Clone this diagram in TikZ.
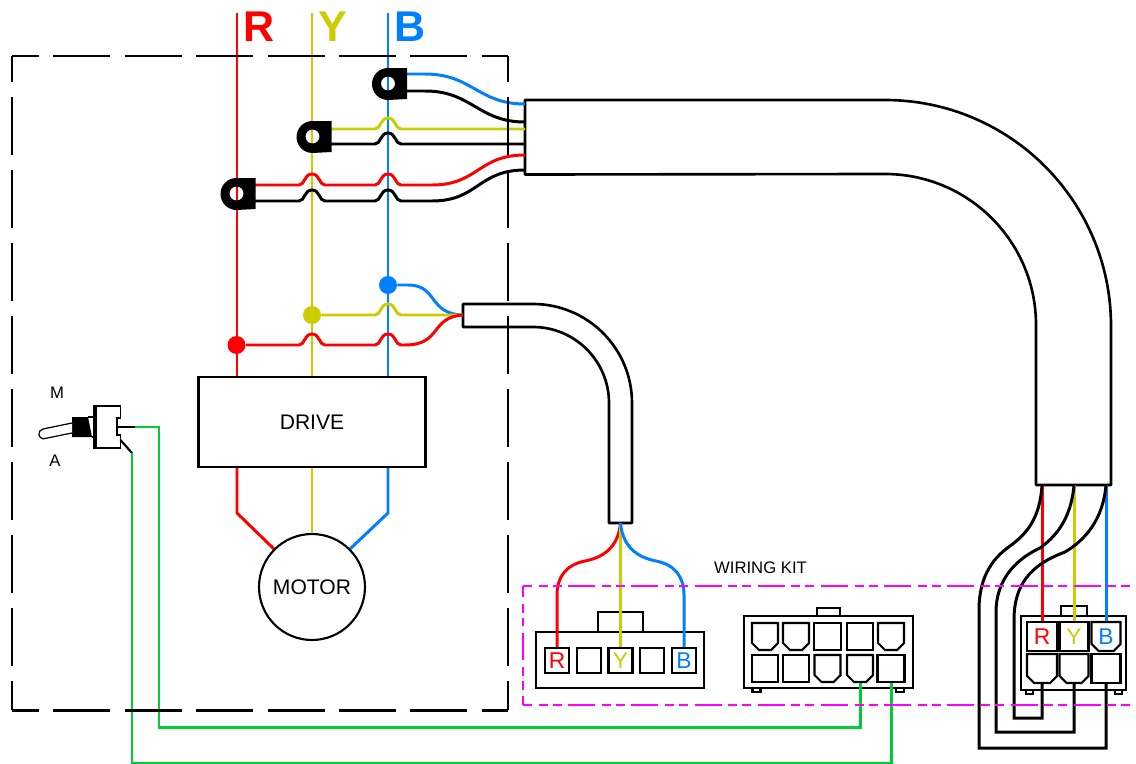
\documentclass[tikz,border=0pt]{standalone}
\usepackage{fontspec}
\setmainfont{Liberation Sans}
\usetikzlibrary{shapes.misc}
\definecolor{redw}{RGB}{255,0,0}
\definecolor{yelw}{RGB}{204,204,0}
\definecolor{bluw}{RGB}{0,128,255}
\definecolor{grnw}{RGB}{0,204,51}
\definecolor{kitc}{RGB}{255,0,255}
\tikzset{
  redwire/.style={draw=redw, line width=1.7pt},
  yelwire/.style={draw=yelw, line width=1.7pt},
  bluwire/.style={draw=bluw, line width=1.7pt},
  grnwire/.style={draw=grnw, line width=1.7pt},
  blkwire/.style={draw=black, line width=1.7pt},
  cable/.style={draw=black, line width=1.5pt, line join=round},
  box/.style={draw, line width=1.2pt, inner sep=0pt},
  phase/.style={font=\fontsize{24.5}{24.5}\selectfont\bfseries, inner sep=0pt},
  label/.style={font=\fontsize{9.5}{9.5}\selectfont, inner sep=0pt},
  pin/.style={draw, line width=1.2pt, inner sep=0pt, minimum width=#1, minimum height=0.5cm,
    font=\fontsize{13}{13}\selectfont},
  pin/.default=0.48cm,
  cut/.style={pin=#1, chamfered rectangle, chamfered rectangle xsep=0.07cm, chamfered rectangle ysep=0.07cm,
    chamfered rectangle corners={south west,south east}},
  cut/.default=0.52cm,
  dot/.style={circle, inner sep=0pt, minimum size=0.36cm},
  wallh/.style={line width=1.7pt, dash pattern=on 1.14cm off 0.288cm, dash phase=0.6cm},
  wallv/.style={line width=1.7pt, dash pattern=on 1.17cm off 0.29cm, dash phase=0.64cm},
  kith/.style={draw=kitc, line width=1.4pt, dash pattern=on 0.54cm off 0.13cm on 0.18cm off 0.1cm on 0.18cm off 0.134cm, dash phase=#1},
  lug/.pic={\fill[even odd rule] (19,-15.5) -- (0,-15.5) arc[start angle=-90, end angle=-270, radius=16] -- (19,15.5) -- cycle
    (0,0) circle[radius=7];},
}
\newcommand{\hop}[2]{-- (#1-13,#2) .. controls (#1-7,#2) and (#1-8,#2-11) .. (#1,#2-11) .. controls (#1+8,#2-11) and (#1+7,#2) .. (#1+13,#2)}
\begin{document}
\begin{tikzpicture}[x=0.02cm, y=-0.02cm]
    \useasboundingbox (0,0) rectangle (1136,764);

    \node[phase, text=redw] (labR) at (259,27) {R};
    \node[phase, text=yelw] (labY) at (333,27) {Y};
    \node[phase, text=bluw] (labB) at (410,27) {B};
    \coordinate (topR) at (237,13);
    \coordinate (topY) at (312,13);
    \coordinate (topB) at (388,13);

    \node[box, minimum width=4.54cm, minimum height=1.8cm, font=\fontsize{12}{12}\selectfont] (drive) at (312,422) {DRIVE};
    \node[box, circle, minimum size=2.12cm, font=\fontsize{12}{12}\selectfont] (motor) at (312,587) {MOTOR};

    \node[dot, fill=redw] (dotR) at (236.5,345) {};
    \node[dot, fill=yelw] (dotY) at (312,315) {};
    \node[dot, fill=bluw] (dotB) at (388,285) {};

    % phase lines
    \draw[redwire] (topR) -- (topR |- drive.north);
    \draw[yelwire] (topY) -- (topY |- drive.north);
    \draw[bluwire] (topB) -- (topB |- drive.north);
    \draw[redwire] (topR |- drive.south) -- (237,513) -- (motor.135);
    \draw[yelwire] (topY |- drive.south) -- (motor.north);
    \draw[bluwire] (topB |- drive.south) -- (388,513) -- (motor.45);

    % big cable
    \draw[cable] (525,100) -- (885,100) arc[start angle=-90, end angle=0, radius=226] -- (1111,485) -- (1036,485)
      -- (1036,325) arc[start angle=0, end angle=-90, radius=151] -- (525,174.5) -- cycle;
    \coordinate (bigR) at (1042,485);
    \coordinate (bigY) at (1074,485);
    \coordinate (bigB) at (1106,485);

    % small cable
    \draw[cable] (463,304) -- (533,304) arc[start angle=-90, end angle=0, radius=99] -- (632,523) -- (609,523)
      -- (609,403) arc[start angle=0, end angle=-90, radius=76] -- (463,327) -- cycle;
    \coordinate (smallin) at (463,315);
    \coordinate (smallout) at (620.5,523);

    % lug wires
    \draw[bluwire] (405,74) -- (425,74) .. controls (472,74) and (478,104) .. (525,104);
    \draw[blkwire] (405,91) -- (425,91) .. controls (472,91) and (478,122) .. (525,122);
    \draw[yelwire] (329,129) \hop{388}{129} -- (525,129);
    \draw[blkwire] (329,144) \hop{388}{144} -- (525,144);
    \draw[redwire] (253,185) \hop{312}{185} \hop{388}{185} -- (432,185) .. controls (478,185) and (478,155) .. (525,155);
    \draw[blkwire] (253,201) \hop{312}{201} \hop{388}{201} -- (432,201) .. controls (478,201) and (478,170) .. (525,170);
    \pic at (388,83.5) {lug};
    \pic at (312.5,136.5) {lug};
    \pic at (236.5,193.5) {lug};

    % drive wires
    \draw[bluwire] (dotB) -- (408,285) .. controls (438,285) and (428,314) .. (smallin);
    \draw[yelwire] (dotY) \hop{388}{315} -- (smallin);
    \draw[redwire] (dotR) \hop{312}{345} \hop{388}{345} -- (405,345) .. controls (442,345) and (430,317) .. (smallin);

    % left plug
    \node[box, minimum width=3.36cm, minimum height=1.12cm] (plugA) at (620,660) {};
    \node[box, minimum width=0.9cm, minimum height=0.4cm] (plugAtab) at (620.5,622) {};
    \node[pin, text=redw] (aR) at (557,660.5) {R};
    \node[pin] (a2) at (589,660.5) {};
    \node[pin, text=yelw] (aY) at (620.5,660.5) {Y};
    \node[pin] (a4) at (652,660.5) {};
    \node[pin, text=bluw] (aB) at (684,660.5) {B};
    \draw[redwire] (smallout) .. controls (618,550) and (600,558) .. (585,561) .. controls (565,565) and (557,578) .. (557,595) -- (aR.north);
    \draw[yelwire] (smallout) -- (aY.north);
    \draw[bluwire] (smallout) .. controls (623,550) and (641,558) .. (656,561) .. controls (676,565) and (684,578) .. (684,595) -- (aB.north);

    % middle plug
    \node[box, minimum width=3.38cm, minimum height=1.44cm] (plugB) at (828.5,652) {};
    \node[box, minimum width=0.46cm, minimum height=0.16cm] (plugBtab) at (828.5,612) {};
    \node[box, minimum width=0.16cm, minimum height=0.08cm] (plugBfl) at (756.5,690) {};
    \node[box, minimum width=0.16cm, minimum height=0.08cm] (plugBfr) at (900,690) {};
    \node[cut, minimum height=0.54cm] (b1) at (765,636.5) {\phantom{R}};
    \node[cut, minimum height=0.54cm] (b2) at (796,636.5) {\phantom{R}};
    \node[pin=0.54cm, minimum height=0.54cm] (b3) at (827.5,636.5) {};
    \node[pin=0.52cm, minimum height=0.54cm] (b4) at (860,636.5) {};
    \node[cut, minimum height=0.54cm] (b5) at (891,636.5) {\phantom{R}};
    \node[pin=0.52cm, minimum height=0.54cm] (b6) at (765,668.5) {};
    \node[pin=0.52cm, minimum height=0.54cm] (b7) at (796,668.5) {};
    \node[cut, minimum height=0.54cm] (b8) at (827.5,668.5) {\phantom{R}};
    \node[cut, minimum height=0.54cm] (b9) at (860,668.5) {\phantom{R}};
    \node[pin=0.54cm, minimum height=0.54cm] (b10) at (891,668.5) {};

    % right plug
    \node[box, minimum width=2.1cm, minimum height=1.48cm] (plugC) at (1073.5,653) {};
    \node[box, minimum width=0.52cm, minimum height=0.2cm] (plugCtab) at (1074,611) {};
    \node[box, minimum width=0.14cm, minimum height=0.08cm] (plugCfl) at (1029.5,692) {};
    \node[box, minimum width=0.14cm, minimum height=0.08cm] (plugCfr) at (1118.5,692) {};
    \node[pin=0.6cm, minimum height=0.58cm, text=redw] (cR) at (1042,636.5) {R};
    \node[pin=0.58cm, minimum height=0.58cm, text=yelw] (cY) at (1074,636.5) {Y};
    \node[cut=0.58cm, minimum height=0.58cm, text=bluw] (cB) at (1106,636.5) {B};
    \node[cut=0.6cm, minimum height=0.58cm] (c4) at (1042,668.5) {\phantom{R}};
    \node[cut=0.58cm, minimum height=0.58cm] (c5) at (1074,668.5) {\phantom{R}};
    \node[pin=0.58cm, minimum height=0.58cm] (c6) at (1106,668.5) {};
    \draw[redwire] (bigR) -- (cR.north);
    \draw[yelwire] (bigY) -- (cY.north);
    \draw[bluwire] (bigB) -- (cB.north);
    \draw[blkwire] (bigR) .. controls (1040,520) and (1025,535) .. (1010,546) .. controls (990,560) and (979,580) .. (979,610) -- (979,748) -- (1106,748) -- (c6.south);
    \draw[blkwire] (bigY) .. controls (1071,520) and (1055,537) .. (1040,548) .. controls (1010,562) and (996,585) .. (996,612) -- (996,732) -- (1074,732) -- (c5.south);
    \draw[blkwire] (bigB) .. controls (1103,520) and (1085,540) .. (1065,552) .. controls (1030,565) and (1014,585) .. (1014,620) -- (1014,718) -- (1042,718) -- (c4.south);

    % switch
    \node[label] (labM) at (57,393) {M};
    \node[label] (labA) at (55,461) {A};
    \fill (72,417) -- (88,417) -- (92,437) -- (72,437) -- cycle;
    \draw[line width=0.7pt, fill=white] (72,423) -- (43,429) arc[start angle=-100, end angle=-260, radius=5] -- (72,433);
    \draw[line width=0.7pt] (88,417) -- (94,417) (92,437) -- (94,437);
    \draw[line width=1pt, fill=white] (94,406) -- (120.5,406) -- (120.5,418) -- (117,418) -- (117,435) -- (120.5,435) -- (120.5,448) -- (94,448) -- cycle;
    \draw[line width=0.6pt] (96,406) -- (96,448);
    \coordinate (swM) at (135,427);
    \coordinate (swA) at (132,453);
    \draw[line width=1.2pt] (117,427) -- (swM);
    \draw[line width=1.2pt] (120.5,440) -- (swA);
    \draw[grnwire] (swM) -- (159,427) -- (159,727) -- (860,727) -- (b9.south);
    \draw[grnwire] (swA) -- (132,763) -- (891,763) -- (b10.south);

    % boundaries
    \draw[wallh] (12,56) -- (508,56);
    \draw[wallh] (12,710) -- (508,710);
    \draw[wallv] (12,56) -- (12,710);
    \draw[wallv] (508,56) -- (508,710);
    \draw[kith=0.358cm] (523,586) -- (1136,586);
    \draw[kith=0.358cm] (523,705) -- (1136,705);
    \draw[kith=0.32cm] (523,586) -- (523,705);
    \node[label] (kit) at (760.5,568) {WIRING KIT};
  \end{tikzpicture}
\end{document}
